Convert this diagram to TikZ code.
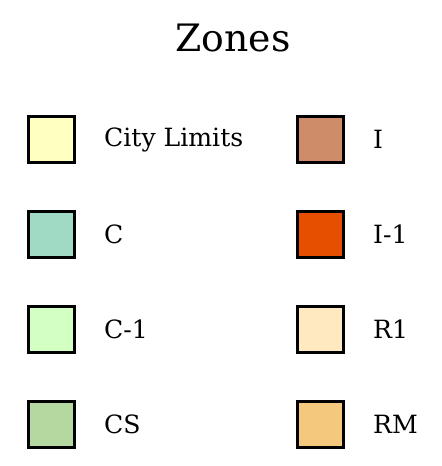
\documentclass[tikz,border=0pt]{standalone}
\usepackage{fontspec}
\setmainfont{DejaVu Serif}
\usetikzlibrary{positioning}

\definecolor{citylim}{HTML}{FFFFC0}
\definecolor{zoneC}{HTML}{A0D9C4}
\definecolor{zoneCone}{HTML}{D4FFC2}
\definecolor{zoneCS}{HTML}{B5D8A0}
\definecolor{zoneI}{HTML}{CF8C68}
\definecolor{zoneIone}{HTML}{E64F00}
\definecolor{zoneRone}{HTML}{FFE9C0}
\definecolor{zoneRM}{HTML}{F4C97D}

\tikzset{
    swatch/.style={draw=black, line width=1.5pt, minimum size=0.92cm, inner sep=0pt},
    zonelabel/.style={right=0.56cm of #1, inner sep=0pt, font=\fontsize{14.3}{16}\selectfont}
}

\begin{document}
\begin{tikzpicture}[x=0.02cm, y=-0.02cm]
    \useasboundingbox (0,0) rectangle (441,466);

    % Title
    \node (title) at (233,38) {\fontsize{21.5}{24}\selectfont Zones};

    % Left column
    \node[swatch, fill=citylim] (citylimits) at (51.5,139.5) {};
    \node[zonelabel=citylimits] (citylimitstxt) {City Limits};
    \node[swatch, fill=zoneC] (c) at (51.5,234.5) {};
    \node[zonelabel=c] (ctxt) {C};
    \node[swatch, fill=zoneCone] (cone) at (51.5,329.5) {};
    \node[zonelabel=cone] (conetxt) {C-1};
    \node[swatch, fill=zoneCS] (cs) at (51.5,424.5) {};
    \node[zonelabel=cs] (cstxt) {CS};

    % Right column
    \node[swatch, fill=zoneI] (i) at (320.5,139.5) {};
    \node[zonelabel=i] (itxt) {I};
    \node[swatch, fill=zoneIone] (ione) at (320.5,234.5) {};
    \node[zonelabel=ione] (ionetxt) {I-1};
    \node[swatch, fill=zoneRone] (rone) at (320.5,329.5) {};
    \node[zonelabel=rone] (ronetxt) {R1};
    \node[swatch, fill=zoneRM] (rm) at (320.5,424.5) {};
    \node[zonelabel=rm] (rmtxt) {RM};

\end{tikzpicture}
\end{document}
